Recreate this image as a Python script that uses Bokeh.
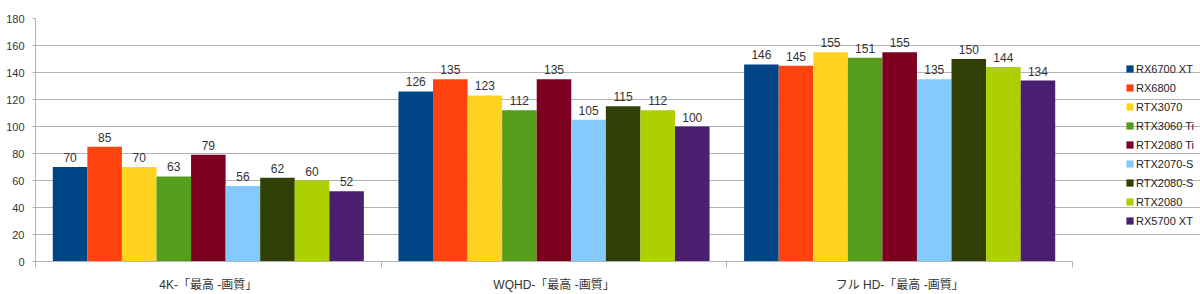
from bokeh.plotting import figure
from bokeh.models import ColumnDataSource, FixedTicker, Legend, LegendItem, Range1d
from bokeh.core.properties import value
from bokeh.embed import file_html
from bokeh.resources import INLINE

categories = ["4K-「最高 -画質」", "WQHD-「最高 -画質」", "フル HD-「最高 -画質」"]
series = ["RX6700 XT", "RX6800", "RTX3070", "RTX3060 Ti", "RTX2080 Ti",
          "RTX2070-S", "RTX2080-S", "RTX2080", "RX5700 XT"]
values = {
    "RX6700 XT": [70, 126, 146],
    "RX6800": [85, 135, 145],
    "RTX3070": [70, 123, 155],
    "RTX3060 Ti": [63, 112, 151],
    "RTX2080 Ti": [79, 135, 155],
    "RTX2070-S": [56, 105, 135],
    "RTX2080-S": [62, 115, 150],
    "RTX2080": [60, 112, 144],
    "RX5700 XT": [52, 100, 134],
}
colors = ["#004586", "#ff420e", "#ffd320", "#579d1c", "#7e0021",
          "#83caff", "#314004", "#aecf00", "#4b1f6f"]
y_ticks = [0, 20, 40, 60, 80, 100, 120, 140, 160, 180]

FONT = "Liberation Sans, Arial, Noto Sans CJK JP, sans-serif"

# frame spans the full width right of the y axis; data area (0..3) ends at x=1072px
LEFT = 35
DATA_PX = 1037
FRAME_PX = 1200 - LEFT
ng = len(categories)

p = figure(width=1200, height=294, output_backend="svg", toolbar_location=None,
           x_range=Range1d(0, ng * FRAME_PX / DATA_PX), y_range=Range1d(0, 180),
           min_border_left=LEFT, min_border_right=0, min_border_top=18,
           min_border_bottom=30)
p.outline_line_color = None
p.background_fill_color = "white"

n = len(series)
w = 0.9 / n
renderers = []
for j, (s, c) in enumerate(zip(series, colors)):
    xs = [i + 0.5 + (j - (n - 1) / 2) * w for i in range(ng)]
    src = ColumnDataSource(dict(x=xs, top=values[s], lab=[str(v) for v in values[s]]))
    r = p.vbar(x="x", top="top", width=w, source=src, fill_color=c, line_color=None)
    renderers.append((s, r))
    p.text(x="x", y="top", text="lab", source=src, text_align="center",
           text_baseline="bottom", y_offset=-5, text_font=value(FONT),
           text_font_size="12px", text_color="#333333")

# y axis
p.yaxis.ticker = FixedTicker(ticks=y_ticks)
p.yaxis.axis_line_color = "#b3b3b3"
p.yaxis.major_tick_line_color = "#b3b3b3"
p.yaxis.major_tick_in = 0
p.yaxis.major_tick_out = 3
p.yaxis.minor_tick_line_color = None
p.yaxis.major_label_text_font = FONT
p.yaxis.major_label_text_font_size = "11px"
p.yaxis.major_label_text_color = "#333333"
p.yaxis.major_label_standoff = 8

# x axis
p.xaxis.ticker = FixedTicker(ticks=[i + 0.5 for i in range(ng)],
                             minor_ticks=list(range(ng + 1)))
p.xaxis.major_label_overrides = {i + 0.5: c for i, c in enumerate(categories)}
p.xaxis.bounds = (0, ng)
p.xaxis.axis_line_color = "#b3b3b3"
p.xaxis.major_tick_line_color = None
p.xaxis.minor_tick_line_color = "#b3b3b3"
p.xaxis.minor_tick_in = 0
p.xaxis.minor_tick_out = 6
p.xaxis.major_label_text_font = FONT
p.xaxis.major_label_text_font_size = "12px"
p.xaxis.major_label_text_color = "#333333"
p.xaxis.major_label_standoff = 10

p.xgrid.grid_line_color = None
p.ygrid.grid_line_color = "#b3b3b3"
p.ygrid.ticker = FixedTicker(ticks=y_ticks)
p.ygrid.bounds = (0, ng)

legend = Legend(items=[LegendItem(label=s, renderers=[r]) for s, r in renderers],
                location=(1090, 34), border_line_color=None,
                background_fill_alpha=0, glyph_width=9, glyph_height=9,
                label_height=13, spacing=6, label_standoff=2, padding=0,
                margin=0, label_text_font=FONT, label_text_font_size="11px",
                label_text_color="#222222")
p.add_layout(legend, "center")

open("out.html", "w").write(file_html(p, INLINE))
